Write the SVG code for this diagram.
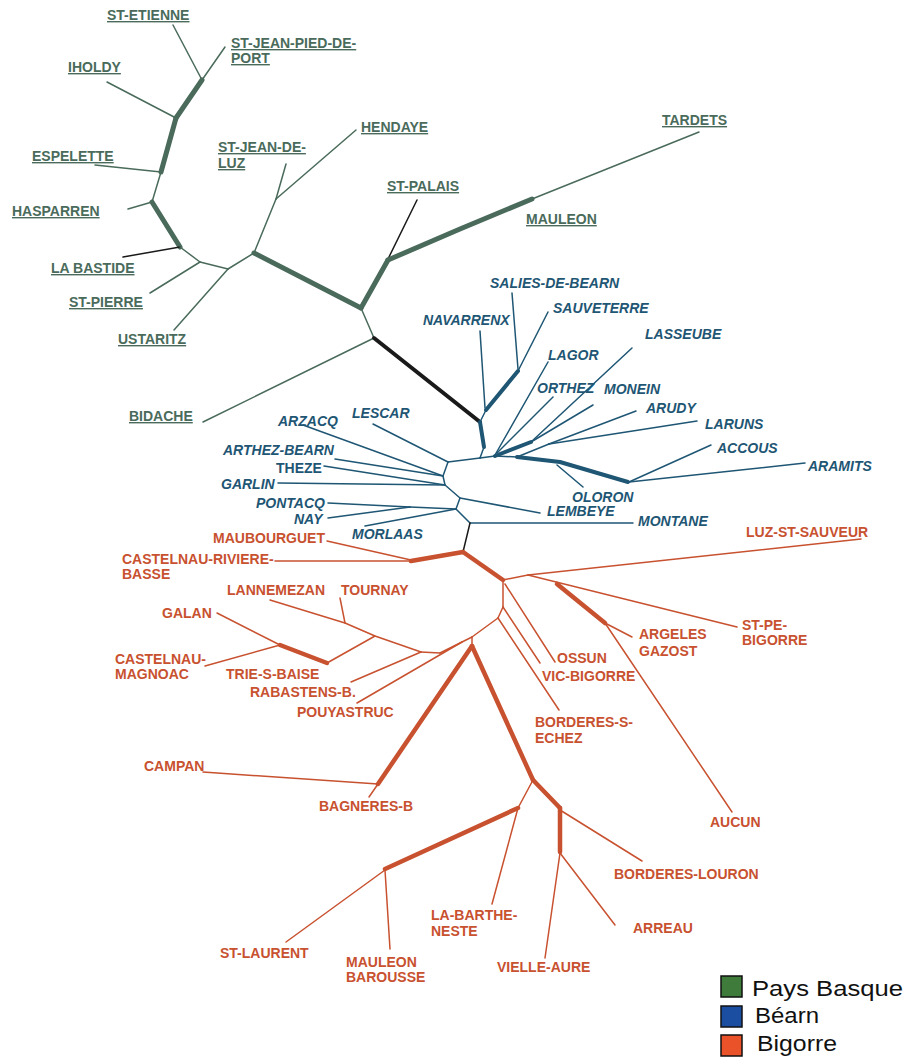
<svg xmlns="http://www.w3.org/2000/svg" width="912" height="1064" viewBox="0 0 912 1064">
<style>
text{font-family:"Liberation Sans",Arial,sans-serif;font-size:14px;font-weight:bold}
.g{fill:#4a6b5b;text-decoration:underline}
.b{fill:#1e5674;font-style:italic}
.bu{fill:#1e5674}
.r{fill:#c8512f}
.lg{font-weight:normal;font-size:22px;fill:#111}
line,polyline{fill:none;stroke-linecap:round;stroke-linejoin:round}
.tg{stroke:#4a6b5b;stroke-width:1.5}
.Tg{stroke:#4a6b5b;stroke-width:5}
.tb{stroke:#1e5674;stroke-width:1.5}
.Tb{stroke:#1e5674;stroke-width:4}
.tr{stroke:#c8512f;stroke-width:1.5}
.Tr{stroke:#c8512f;stroke-width:4.5}
.tk{stroke:#1a1a1a;stroke-width:1.5}
.Tk{stroke:#1a1a1a;stroke-width:4}
</style>
<rect width="912" height="1064" fill="#fff"/>
<g id="connectors">
<!-- Pays Basque -->
<line class="tg" x1="173" y1="25" x2="202" y2="80"/>
<line class="tg" x1="225" y1="47" x2="202" y2="80"/>
<line class="Tg" x1="202" y1="80" x2="176" y2="118"/>
<line class="tg" x1="107" y1="82" x2="176" y2="118"/>
<line class="Tg" x1="176" y1="118" x2="161" y2="172"/>
<line class="tg" x1="95" y1="165" x2="161" y2="172"/>
<line class="tg" x1="161" y1="172" x2="152" y2="202"/>
<line class="tg" x1="128" y1="209" x2="152" y2="202"/>
<line class="Tg" x1="152" y1="202" x2="180" y2="247"/>
<line class="tk" x1="123" y1="257" x2="180" y2="247"/>
<line class="tg" x1="180" y1="247" x2="200" y2="262"/>
<line class="tg" x1="150" y1="293" x2="200" y2="262"/>
<line class="tg" x1="200" y1="262" x2="228" y2="269"/>
<line class="tg" x1="174" y1="330" x2="228" y2="269"/>
<line class="tg" x1="228" y1="269" x2="254" y2="253"/>
<line class="tg" x1="254" y1="253" x2="276" y2="199"/>
<line class="tg" x1="286" y1="164" x2="276" y2="199"/>
<line class="tg" x1="356" y1="130" x2="276" y2="199"/>
<line class="Tg" x1="254" y1="253" x2="361" y2="308"/>
<line class="Tg" x1="361" y1="308" x2="388" y2="260"/>
<line class="tk" x1="417" y1="200" x2="388" y2="259"/>
<polyline class="Tg" points="388,260 460,229 532,199"/>
<line class="tg" x1="532" y1="199" x2="699" y2="132"/>
<line class="tg" x1="361" y1="308" x2="374" y2="338"/>
<line class="tg" x1="203" y1="422" x2="374" y2="338"/>
<line class="Tk" x1="374" y1="338" x2="480" y2="422"/>
<!-- Bearn -->
<line class="Tb" x1="480" y1="422" x2="484" y2="447"/>
<line class="tb" x1="480" y1="422" x2="486" y2="410"/>
<line class="tb" x1="480" y1="331" x2="485" y2="408"/>
<line class="Tb" x1="486" y1="410" x2="518" y2="371"/>
<line class="tb" x1="512" y1="293" x2="518" y2="369"/>
<line class="tb" x1="548" y1="312" x2="518" y2="371"/>
<line class="tb" x1="484" y1="447" x2="480" y2="458"/>
<line class="tb" x1="448" y1="462" x2="480" y2="458"/>
<line class="tb" x1="480" y1="458" x2="495" y2="456"/>
<line class="tb" x1="548" y1="362" x2="495" y2="455"/>
<line class="tb" x1="553" y1="397" x2="497" y2="453"/>
<line class="Tb" x1="495" y1="456" x2="531" y2="442"/>
<line class="tb" x1="632" y1="348" x2="531" y2="442"/>
<line class="tb" x1="593" y1="405" x2="531" y2="442"/>
<line class="tb" x1="495" y1="456" x2="517" y2="457"/>
<line class="tb" x1="517" y1="457" x2="549" y2="444"/>
<line class="tb" x1="636" y1="411" x2="549" y2="444"/>
<line class="tb" x1="697" y1="421" x2="549" y2="444"/>
<polyline class="Tb" points="517,457 560,462 628,482"/>
<line class="tb" x1="583" y1="487" x2="557" y2="465"/>
<line class="tb" x1="711" y1="445" x2="629" y2="482"/>
<line class="tb" x1="805" y1="463" x2="629" y2="482"/>
<line class="tb" x1="373" y1="424" x2="448" y2="462"/>
<polyline class="tb" points="448,462 443,476 445,485 460,498 456,509 470,523"/>
<line class="tb" x1="303" y1="425" x2="443" y2="476"/>
<line class="tb" x1="335" y1="459" x2="443" y2="476"/>
<line class="tb" x1="324" y1="466" x2="445" y2="485"/>
<line class="tb" x1="278" y1="483" x2="445" y2="485"/>
<line class="tb" x1="540" y1="513" x2="460" y2="498"/>
<line class="tb" x1="328" y1="503" x2="410" y2="507"/>
<line class="tb" x1="328" y1="518" x2="410" y2="507"/>
<line class="tb" x1="410" y1="507" x2="456" y2="509"/>
<line class="tb" x1="365" y1="526" x2="456" y2="509"/>
<line class="tb" x1="470" y1="523" x2="633" y2="523"/>
<line class="tk" x1="470" y1="523" x2="463" y2="552"/>
<!-- Bigorre -->
<line class="Tr" x1="463" y1="552" x2="411" y2="561"/>
<line class="tr" x1="275" y1="561" x2="411" y2="561"/>
<line class="tr" x1="327" y1="541" x2="411" y2="560"/>
<line class="Tr" x1="463" y1="552" x2="503" y2="580"/>
<line class="tr" x1="503" y1="580" x2="528" y2="575"/>
<line class="tr" x1="528" y1="575" x2="861" y2="539"/>
<line class="tr" x1="528" y1="575" x2="737" y2="627"/>
<line class="Tr" x1="557" y1="584" x2="605" y2="623"/>
<line class="tr" x1="605" y1="623" x2="632" y2="637"/>
<line class="tr" x1="605" y1="623" x2="732" y2="812"/>
<line class="tr" x1="503" y1="580" x2="503" y2="607"/>
<line class="tr" x1="505" y1="584" x2="555" y2="662"/>
<line class="tr" x1="503" y1="607" x2="540" y2="663"/>
<line class="tr" x1="503" y1="607" x2="498" y2="618"/>
<line class="tr" x1="498" y1="618" x2="559" y2="710"/>
<line class="tr" x1="498" y1="618" x2="472" y2="637"/>
<line class="tr" x1="472" y1="637" x2="472" y2="646"/>
<line class="tr" x1="472" y1="637" x2="440" y2="653"/>
<line class="tr" x1="357" y1="703" x2="462" y2="642"/>
<line class="tr" x1="440" y1="653" x2="421" y2="652"/>
<line class="tr" x1="351" y1="682" x2="421" y2="652"/>
<polyline class="tr" points="421,652 375,636 345,623 270,600"/>
<line class="tr" x1="340" y1="598" x2="345" y2="623"/>
<line class="tr" x1="375" y1="636" x2="327" y2="663"/>
<line class="Tr" x1="327" y1="663" x2="280" y2="645"/>
<line class="tr" x1="217" y1="613" x2="280" y2="645"/>
<line class="tr" x1="205" y1="666" x2="280" y2="645"/>
<line class="Tr" x1="472" y1="646" x2="378" y2="784"/>
<line class="tr" x1="203" y1="772" x2="378" y2="784"/>
<line class="tr" x1="369" y1="797" x2="378" y2="784"/>
<line class="Tr" x1="472" y1="646" x2="533" y2="780"/>
<line class="Tr" x1="533" y1="780" x2="560" y2="808"/>
<line class="Tr" x1="560" y1="808" x2="560" y2="852"/>
<line class="tr" x1="560" y1="810" x2="642" y2="861"/>
<line class="tr" x1="560" y1="853" x2="545" y2="958"/>
<line class="tr" x1="560" y1="853" x2="615" y2="925"/>
<line class="tr" x1="533" y1="780" x2="518" y2="808"/>
<line class="tr" x1="518" y1="808" x2="492" y2="904"/>
<line class="Tr" x1="518" y1="808" x2="385" y2="869"/>
<line class="tr" x1="385" y1="870" x2="286" y2="942"/>
<line class="tr" x1="385" y1="870" x2="390" y2="949"/>
</g>
<!-- Pays Basque labels -->
<g id="st-etienne"><text class="g" x="107" y="20">ST-ETIENNE</text></g>
<g id="st-jean-pied-de-port"><text class="g" x="231" y="48">ST-JEAN-PIED-DE-</text><text class="g" x="231" y="63">PORT</text></g>
<g id="iholdy"><text class="g" x="68" y="72">IHOLDY</text></g>
<g id="hendaye"><text class="g" x="361" y="132">HENDAYE</text></g>
<g id="tardets"><text class="g" x="662" y="125">TARDETS</text></g>
<g id="st-jean-de-luz"><text class="g" x="218" y="152">ST-JEAN-DE-</text><text class="g" x="218" y="168">LUZ</text></g>
<g id="espelette"><text class="g" x="32" y="161">ESPELETTE</text></g>
<g id="st-palais"><text class="g" x="387" y="191">ST-PALAIS</text></g>
<g id="hasparren"><text class="g" x="12" y="216">HASPARREN</text></g>
<g id="mauleon"><text class="g" x="526" y="224">MAULEON</text></g>
<g id="la-bastide"><text class="g" x="51" y="273">LA BASTIDE</text></g>
<g id="st-pierre"><text class="g" x="69" y="307">ST-PIERRE</text></g>
<g id="ustaritz"><text class="g" x="118" y="344">USTARITZ</text></g>
<g id="bidache"><text class="g" x="129" y="421">BIDACHE</text></g>
<!-- Bearn labels -->
<g id="salies-de-bearn"><text class="b" x="490" y="288">SALIES-DE-BEARN</text></g>
<g id="sauveterre"><text class="b" x="553" y="313">SAUVETERRE</text></g>
<g id="navarrenx"><text class="b" x="423" y="325">NAVARRENX</text></g>
<g id="lasseube"><text class="b" x="645" y="339">LASSEUBE</text></g>
<g id="lagor"><text class="b" x="548" y="360">LAGOR</text></g>
<g id="orthez"><text class="b" x="537" y="393">ORTHEZ</text></g>
<g id="monein"><text class="b" x="604" y="394">MONEIN</text></g>
<g id="arudy"><text class="b" x="646" y="413">ARUDY</text></g>
<g id="lescar"><text class="b" x="352" y="418">LESCAR</text></g>
<g id="arzacq"><text class="b" x="278" y="426">ARZACQ</text></g>
<g id="laruns"><text class="b" x="705" y="429">LARUNS</text></g>
<g id="accous"><text class="b" x="717" y="453">ACCOUS</text></g>
<g id="arthez-bearn"><text class="b" x="223" y="455">ARTHEZ-BEARN</text></g>
<g id="aramits"><text class="b" x="808" y="471">ARAMITS</text></g>
<g id="theze"><text class="bu" x="276" y="473">THEZE</text></g>
<g id="garlin"><text class="b" x="221" y="489">GARLIN</text></g>
<g id="oloron"><text class="b" x="572" y="502">OLORON</text></g>
<g id="pontacq"><text class="b" x="256" y="508">PONTACQ</text></g>
<g id="lembeye"><text class="b" x="547" y="516">LEMBEYE</text></g>
<g id="nay"><text class="b" x="294" y="524">NAY</text></g>
<g id="montane"><text class="b" x="638" y="526">MONTANE</text></g>
<g id="morlaas"><text class="b" x="352" y="539">MORLAAS</text></g>
<!-- Bigorre labels -->
<g id="luz-st-sauveur"><text class="r" x="746" y="537">LUZ-ST-SAUVEUR</text></g>
<g id="maubourguet"><text class="r" x="213" y="543">MAUBOURGUET</text></g>
<g id="castelnau-riviere-basse"><text class="r" x="122" y="564">CASTELNAU-RIVIERE-</text><text class="r" x="122" y="579">BASSE</text></g>
<g id="lannemezan"><text class="r" x="227" y="595">LANNEMEZAN</text></g>
<g id="tournay"><text class="r" x="341" y="595">TOURNAY</text></g>
<g id="galan"><text class="r" x="162" y="618">GALAN</text></g>
<g id="st-pe-bigorre"><text class="r" x="742" y="630">ST-PE-</text><text class="r" x="742" y="645">BIGORRE</text></g>
<g id="argeles-gazost"><text class="r" x="639" y="639">ARGELES</text><text class="r" x="639" y="656">GAZOST</text></g>
<g id="castelnau-magnoac"><text class="r" x="115" y="664">CASTELNAU-</text><text class="r" x="115" y="679">MAGNOAC</text></g>
<g id="ossun"><text class="r" x="557" y="663">OSSUN</text></g>
<g id="trie-s-baise"><text class="r" x="226" y="679">TRIE-S-BAISE</text></g>
<g id="vic-bigorre"><text class="r" x="542" y="681">VIC-BIGORRE</text></g>
<g id="rabastens-b"><text class="r" x="250" y="697">RABASTENS-B.</text></g>
<g id="pouyastruc"><text class="r" x="297" y="717">POUYASTRUC</text></g>
<g id="borderes-s-echez"><text class="r" x="535" y="727">BORDERES-S-</text><text class="r" x="535" y="743">ECHEZ</text></g>
<g id="campan"><text class="r" x="144" y="771">CAMPAN</text></g>
<g id="bagneres-b"><text class="r" x="319" y="811">BAGNERES-B</text></g>
<g id="aucun"><text class="r" x="710" y="827">AUCUN</text></g>
<g id="borderes-louron"><text class="r" x="614" y="879">BORDERES-LOURON</text></g>
<g id="la-barthe-neste"><text class="r" x="431" y="920">LA-BARTHE-</text><text class="r" x="431" y="936">NESTE</text></g>
<g id="arreau"><text class="r" x="633" y="933">ARREAU</text></g>
<g id="st-laurent"><text class="r" x="220" y="958">ST-LAURENT</text></g>
<g id="mauleon-barousse"><text class="r" x="346" y="967">MAULEON</text><text class="r" x="346" y="982">BAROUSSE</text></g>
<g id="vielle-aure"><text class="r" x="497" y="972">VIELLE-AURE</text></g>
<!-- Legend -->
<g id="legend">
<rect x="721" y="976" width="21" height="21" fill="#3f7b3a" stroke="#111" stroke-width="1.5"/>
<rect x="721" y="1006" width="21" height="21" fill="#1b4ea0" stroke="#111" stroke-width="1.5"/>
<rect x="721" y="1035" width="21" height="21" fill="#ea5229" stroke="#111" stroke-width="1.5"/>
<text class="lg" x="752" y="996" textLength="151" lengthAdjust="spacingAndGlyphs">Pays Basque</text>
<text class="lg" x="755" y="1023" textLength="64" lengthAdjust="spacingAndGlyphs">Béarn</text>
<text class="lg" x="757" y="1051" textLength="80" lengthAdjust="spacingAndGlyphs">Bigorre</text>
</g>
</svg>
